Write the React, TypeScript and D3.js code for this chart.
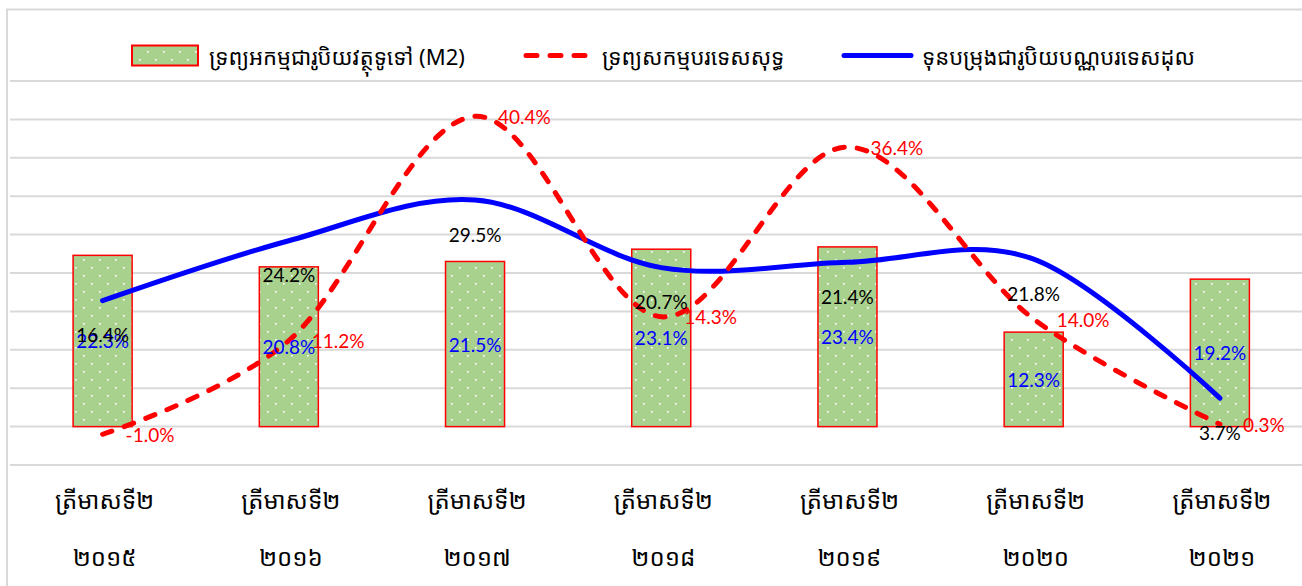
import React from 'react';
import * as d3 from 'd3';

// categories (Q2 of each year) and series values in %
const quarterLabel = 'ត្រីមាសទី២';
const years = ['២០១៥', '២០១៦', '២០១៧', '២០១៨', '២០១៩', '២០២០', '២០២១'];
const m2Growth = [22.3, 20.8, 21.5, 23.1, 23.4, 12.3, 19.2];
const nfaGrowth = [-1.0, 11.2, 40.4, 14.3, 36.4, 14.0, 0.3];
const reserveGrowth = [16.4, 24.2, 29.5, 20.7, 21.4, 21.8, 3.7];
const yTicks = [-5, 0, 5, 10, 15, 20, 25, 30, 35, 40, 45];

const seriesNames = [
  'ទ្រព្យអកម្មជារូបិយវត្ថុទូទៅ (M2)',
  'ទ្រព្យសកម្មបរទេសសុទ្ធ',
  'ទុនបម្រុងជារូបិយបណ្ណបរទេសដុល',
];

const W = 1302;
const H = 586;
const khmerFont = "'Khmer OS System', 'Khmer OS', 'Noto Sans Khmer', 'Noto Serif Khmer', 'Khmer', sans-serif";
const numFont = "Lato, 'Open Sans', sans-serif";
const labelSize = 19;

export default function App() {
  const x = d3.scaleBand<string>()
    .domain(years)
    .range([9.5, 1313])
    .paddingInner(0.683)
    .paddingOuter(0.3415);
  const y = d3.scaleLinear().domain([-5, 45]).range([465, 81]);
  const cx = (i: number) => (x(years[i]) as number) + x.bandwidth() / 2;

  const line = d3.line<number>()
    .x((_, i) => cx(i))
    .y(d => y(d))
    .curve(d3.curveCardinal.tension(0));

  return (
    <svg width={W} height={H} style={{ position: 'absolute', left: 0, top: 0, background: '#fff' }}>
      <defs>
        <pattern id="dots" width={16} height={16} patternUnits="userSpaceOnUse">
          <rect width={16} height={16} fill="#a9d18e" />
          <rect x={3} y={3} width={1.6} height={1.6} fill="#fff" />
          <rect x={11} y={11} width={1.6} height={1.6} fill="#fff" />
        </pattern>
      </defs>

      {/* chart border */}
      <rect x={7} y={9.5} width={1300} height={600} fill="none" stroke="#d9d9d9" strokeWidth={2} />

      {/* gridlines */}
      {yTicks.map(t => (
        <line key={t} x1={10} x2={W} y1={y(t)} y2={y(t)} stroke="#d9d9d9" strokeWidth={2} />
      ))}

      {/* bars */}
      {m2Growth.map((v, i) => (
        <rect key={i} x={x(years[i])} y={y(Math.max(0, v))} width={x.bandwidth()}
          height={Math.abs(y(v) - y(0))} fill="url(#dots)" stroke="#ff0000" strokeWidth={1.5} />
      ))}

      {/* lines */}
      <path d={line(reserveGrowth) ?? ''} fill="none" stroke="#0000ff" strokeWidth={5} strokeLinecap="round" />
      <path d={line(nfaGrowth) ?? ''} fill="none" stroke="#ff0000" strokeWidth={5}
        strokeDasharray="10,13" strokeLinecap="round" />

      {/* bar labels */}
      {m2Growth.map((v, i) => (
        <text key={i} x={cx(i)} y={(y(v) + y(0)) / 2} textAnchor="middle" dominantBaseline="central"
          fill="#0000ff" fontFamily={numFont} fontSize={labelSize}>{v.toFixed(1)}%</text>
      ))}
      {/* red line labels, right of point */}
      {nfaGrowth.map((v, i) => (
        <text key={i} x={cx(i) + 23} y={y(v)} dominantBaseline="central"
          fill="#ff0000" fontFamily={numFont} fontSize={labelSize}>{v.toFixed(1)}%</text>
      ))}
      {/* blue line labels, below point */}
      {reserveGrowth.map((v, i) => (
        <text key={i} x={cx(i)} y={y(v) + 34} textAnchor="middle" dominantBaseline="central"
          fill="#000" fontFamily={numFont} fontSize={labelSize}>{v.toFixed(1)}%</text>
      ))}

      {/* x axis labels */}
      {years.map((yr, i) => (
        <g key={yr} fontFamily={khmerFont} fontSize={24} fill="#000" textAnchor="middle">
          <text x={cx(i) + 2} y={499} dominantBaseline="central">{quarterLabel}</text>
          <text x={cx(i) + 2} y={556} dominantBaseline="central">{yr}</text>
        </g>
      ))}

      {/* legend */}
      <g fontFamily={khmerFont} fontSize={22} fill="#000">
        <rect x={132} y={45.5} width={66} height={20} fill="url(#dots)" stroke="#ff0000" strokeWidth={2} />
        <text x={209} y={55.5} dominantBaseline="central">{seriesNames[0]}</text>
        <line x1={526} x2={585} y1={55.5} y2={55.5} stroke="#ff0000" strokeWidth={5}
          strokeDasharray="11,13" strokeLinecap="round" />
        <text x={602} y={55.5} dominantBaseline="central">{seriesNames[1]}</text>
        <line x1={844} x2={911} y1={55.5} y2={55.5} stroke="#0000ff" strokeWidth={5} strokeLinecap="round" />
        <text x={922} y={55.5} dominantBaseline="central">{seriesNames[2]}</text>
      </g>
    </svg>
  );
}
